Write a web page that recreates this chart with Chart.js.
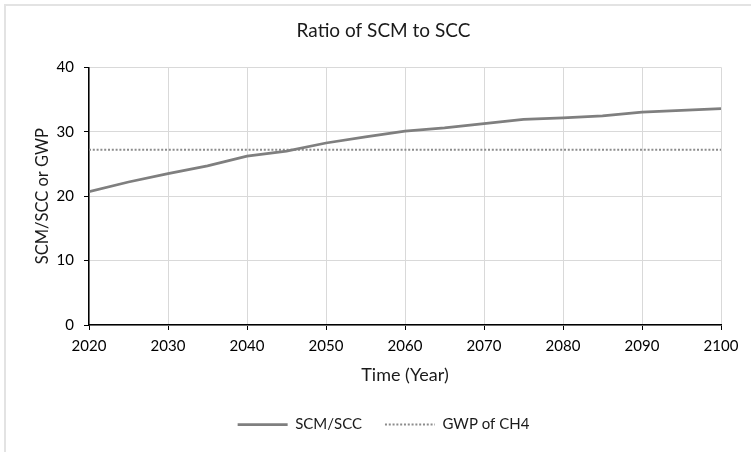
<!DOCTYPE html>
<html>
<head>
<meta charset="utf-8">
<script src="https://cdn.jsdelivr.net/npm/chart.js@4"></script>
<style>
  html, body { margin: 0; padding: 0; background: #fff; overflow: hidden; }
  #wrap { position: relative; width: 751px; height: 452px; }
  #frame { position: absolute; left: 4px; top: 4px; width: 800px; height: 500px;
           border-top: 2px solid #e3e3e3; border-left: 2px solid #e3e3e3; box-sizing: border-box; }
  canvas { position: absolute; left: 0; top: 0; }
</style>
</head>
<body>
<div id="wrap">
  <div id="frame"></div>
  <canvas id="chart" width="751" height="452"></canvas>
</div>
<script>
// data
const years = [2020, 2025, 2030, 2035, 2040, 2045, 2050, 2055, 2060, 2065, 2070, 2075, 2080, 2085, 2090, 2095, 2100];
const scmScc = [20.7, 22.2, 23.5, 24.7, 26.2, 27.0, 28.25, 29.2, 30.1, 30.6, 31.25, 31.9, 32.15, 32.45, 33.05, 33.3, 33.6];
const gwpCh4 = 27.2;

const font = 'Lato, "Open Sans", sans-serif';
Chart.defaults.font.family = font;
Chart.defaults.color = '#000';

// the original chart was a bit wider than the picture, so title and legend sit right of centre
const shiftBoxes = {
    id: 'shiftBoxes',
    afterLayout(chart) {
        [chart.titleBlock, chart.legend].forEach(b => {
            b.left += 23;
            b.right += 23;
        });
    }
};

const ctx = document.getElementById('chart').getContext('2d');
new Chart(ctx, {
    type: 'line',
    data: {
        datasets: [
            {
                label: 'SCM/SCC',
                data: years.map((y, i) => ({ x: y, y: scmScc[i] })),
                borderColor: '#7f7f7f',
                backgroundColor: '#7f7f7f',
                borderWidth: 2.75,
                pointRadius: 0,
                tension: 0
            },
            {
                label: 'GWP of CH4',
                data: years.map(y => ({ x: y, y: gwpCh4 })),
                borderColor: '#8c8c8c',
                backgroundColor: '#8c8c8c',
                borderWidth: 2,
                borderDash: [2, 1.8],
                pointRadius: 0
            }
        ]
    },
    options: {
        responsive: false,
        animation: false,
        layout: { padding: { left: 0, right: 30, top: 0, bottom: 10 } },
        plugins: {
            title: {
                display: true,
                text: 'Ratio of SCM to SCC',
                font: { size: 19, weight: 'normal' },
                color: '#1a1a1a',
                padding: { top: 19.5, bottom: 25 }
            },
            legend: {
                position: 'bottom',
                labels: {
                    usePointStyle: true,
                    pointStyle: 'line',
                    pointStyleWidth: 50,
                    padding: 23,
                    font: { size: 15 },
                    color: '#1a1a1a',
                    generateLabels: chart => {
                        const items = Chart.defaults.plugins.legend.labels.generateLabels(chart);
                        items.forEach(it => {
                            const ds = chart.data.datasets[it.datasetIndex];
                            it.lineDash = ds.borderDash || [];
                            it.lineWidth = ds.borderWidth;
                        });
                        return items;
                    }
                }
            },
            tooltip: { enabled: false }
        },
        scales: {
            x: {
                type: 'linear',
                min: 2020,
                max: 2100,
                ticks: { stepSize: 10, padding: 7, font: { size: 15 }, callback: v => String(v) },
                grid: { color: '#d9d9d9', tickColor: '#000', tickLength: 5 },
                border: { color: '#000', width: 1.5 },
                title: { display: true, text: 'Time (Year)', font: { size: 18 }, color: '#1a1a1a', padding: { top: 0, bottom: 8 } },
                afterFit: scale => { scale.height = 69; }
            },
            y: {
                min: 0,
                max: 40,
                ticks: { stepSize: 10, padding: 10, font: { size: 15 } },
                grid: { color: '#d9d9d9', tickColor: '#000', tickLength: 5 },
                border: { color: '#000', width: 1.5 },
                title: { display: true, text: 'SCM/SCC or GWP', font: { size: 16.5 }, color: '#1a1a1a', padding: { top: 33, bottom: 0 } },
                afterFit: scale => { scale.width = 89; }
            }
        }
    },
    plugins: [shiftBoxes]
});
</script>
</body>
</html>
